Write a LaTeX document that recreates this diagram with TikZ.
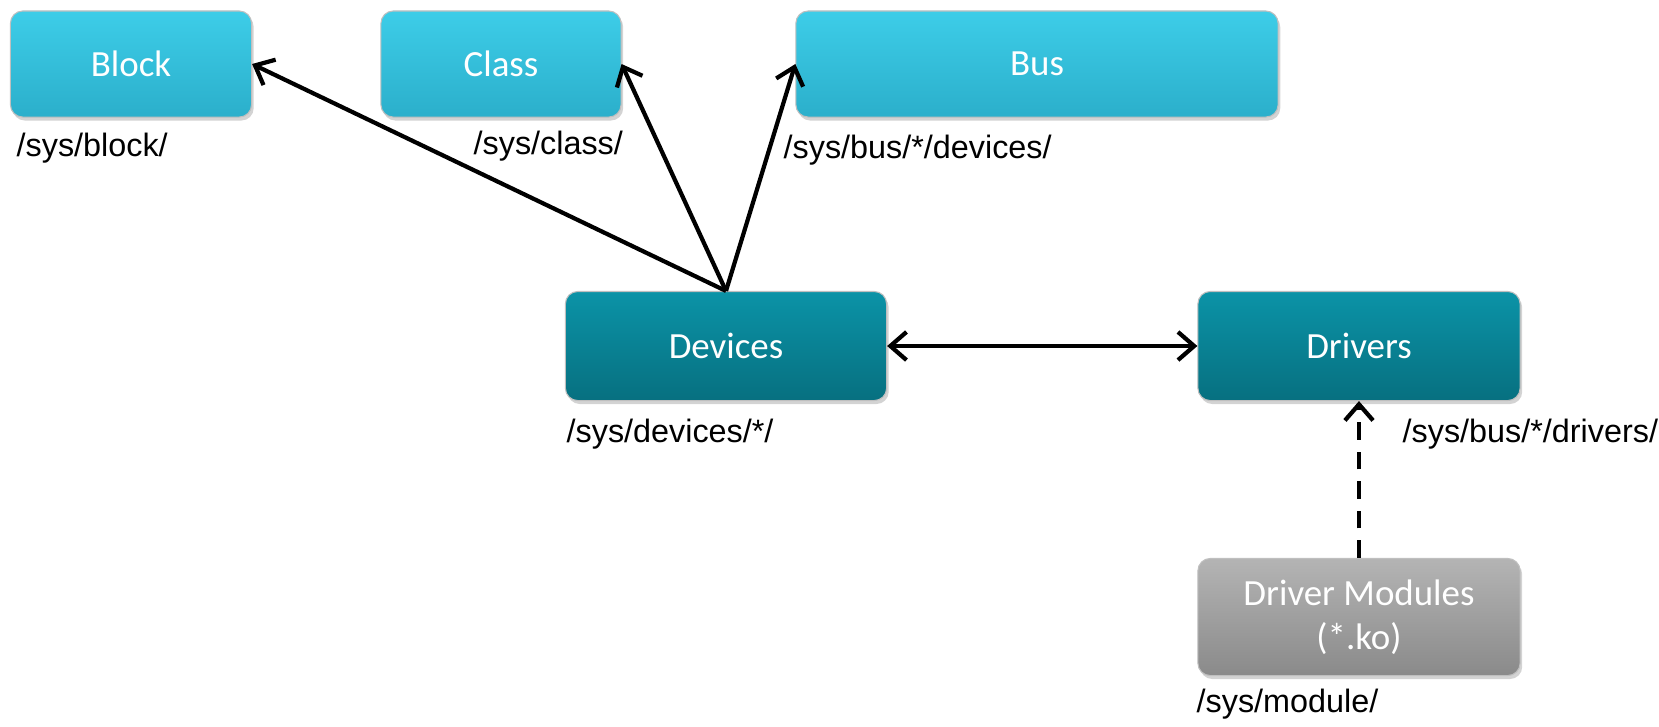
\documentclass[tikz,border=0pt]{standalone}
\usepackage{fontspec}
\setmainfont{Liberation Sans}
\newfontfamily\boxfont{Carlito}
\usetikzlibrary{arrows.meta,shadows}

\definecolor{lightcyan}{HTML}{3DCDE8}
\definecolor{darkcyan}{HTML}{2BAFCB}
\definecolor{lightteal}{HTML}{0B93A7}
\definecolor{darkteal}{HTML}{077080}
\definecolor{lightgrey}{HTML}{B4B4B4}
\definecolor{darkgrey}{HTML}{8A8A8A}

\begin{document}
\begin{tikzpicture}[x=0.01cm,y=-0.01cm,
    sysbox/.style ={rectangle, rounded corners=3.5pt, draw=black!25, line width=0.3pt,
      font=\boxfont\fontsize{10.5}{12.5}\selectfont, text=white, align=center,
      minimum height=1.06cm, drop shadow={opacity=0.35, shadow xshift=0.6pt, shadow yshift=-1pt}},
    upper/.style ={sysbox, top color=lightcyan, bottom color=darkcyan},
    core/.style ={sysbox, top color=lightteal, bottom color=darkteal, minimum height=1.09cm},
    module/.style ={sysbox, top color=lightgrey, bottom color=darkgrey, minimum height=1.17cm},
    path/.style ={font=\fontsize{9.2}{11}\selectfont, inner sep=0pt},
    barb/.tip ={Straight Barb[length=4.6pt,width=8pt,line width=1.2pt]},
    link/.style ={line width=1.2pt, -barb}]
   \useasboundingbox (0,0) rectangle (1659,726);
   \node[upper, minimum width=2.41cm] (blk) at (131,64) {Block};
   \node[upper, minimum width=2.40cm] (cls) at (501,64) {Class};
   \node[upper, minimum width=4.82cm] (bus) at (1037,64) {Bus};
   \node[core, minimum width=3.21cm] (dev) at (726,346) {Devices};
   \node[core, minimum width=3.22cm] (drv) at (1359,346) {Drivers};
   \node[module, minimum width=3.22cm] (mod) at (1359,617) {Driver Modules\\(*.ko)};
   \node[path, anchor=west] (pblk) at (16,148) {/sys/block/};
   \node[path, anchor=west] (pcls) at (473,146) {/sys/class/};
   \node[path, anchor=west] (pbus) at (783,150) {/sys/bus/*/devices/};
   \node[path, anchor=west] (pdev) at (566,434) {/sys/devices/*/};
   \node[path, anchor=west] (pdrv) at (1402,434) {/sys/bus/*/drivers/};
   \node[path, anchor=west] (pmod) at (1196,704) {/sys/module/};
   \draw[link] (dev.north) to (blk.east);
   \draw[link] (dev.north) to (cls.east);
   \draw[link] (dev.north) to (bus.west);
   \draw[link, barb-barb] (dev.east) to (drv.west);
   \draw[link, dash pattern=on 5pt off 3.4pt] (mod.north) to (drv.south);
 \end{tikzpicture}
\end{document}
